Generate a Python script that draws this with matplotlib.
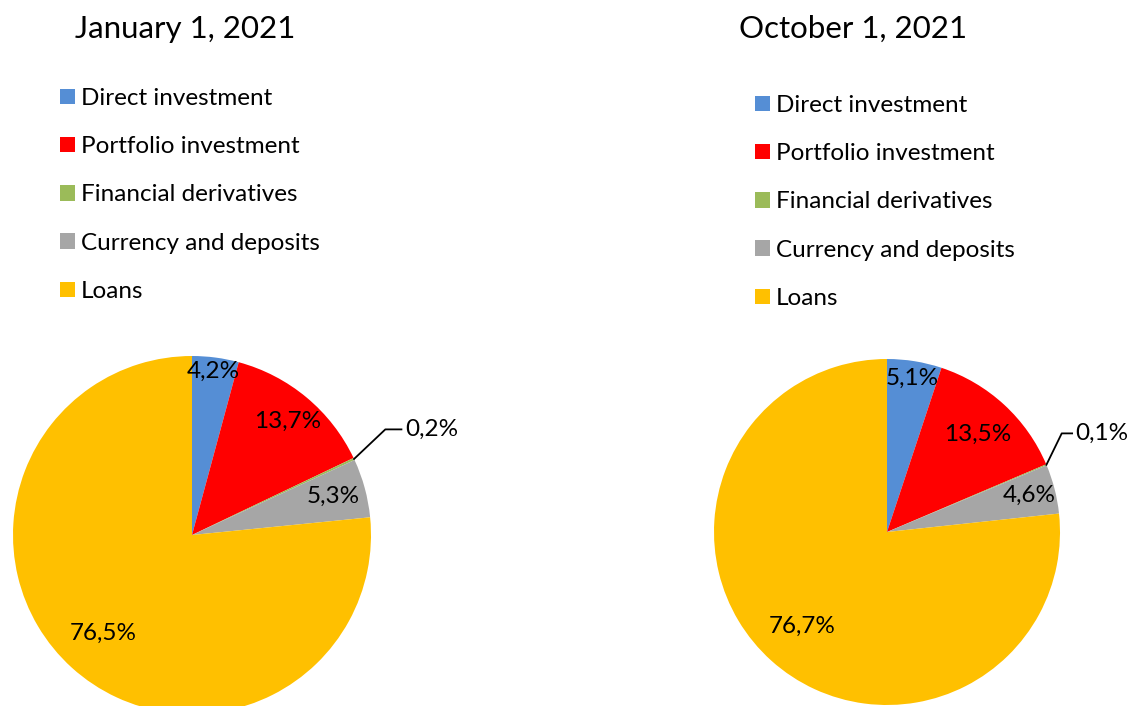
import numpy as np
import matplotlib.pyplot as plt

categories = ['Direct investment', 'Portfolio investment', 'Financial derivatives',
              'Currency and deposits', 'Loans']
jan_values = [4.2, 13.7, 0.2, 5.3, 76.5]
oct_values = [5.1, 13.5, 0.1, 4.6, 76.7]
titles = ['January 1, 2021', 'October 1, 2021']
colors = ['#558ED5', '#FF0000', '#9BBB59', '#A6A6A6', '#FFC000']

plt.rcParams['font.family'] = ['Lato', 'DejaVu Sans']

W, H = 1130, 706
fig = plt.figure(figsize=(W / 100, H / 100), dpi=100)


def pie_axes(cx, cy, r):
    # axes in pixel terms, radius 1 == r pixels
    ax = fig.add_axes([(cx - r) / W, (H - cy - r) / H, 2 * r / W, 2 * r / H])
    return ax


def fmt(v):
    return f'{v:.1f}%'.replace('.', ',')


def draw_pie(ax, values, dists, small_idx, leader):
    wedges, _ = ax.pie(values, colors=colors, startangle=90, counterclock=False,
                       radius=1, wedgeprops=dict(linewidth=0))
    ax.set_xlim(-1, 1)
    ax.set_ylim(-1, 1)
    ax.set_aspect('auto')
    for i, (w, v) in enumerate(zip(wedges, values)):
        ang = np.deg2rad((w.theta1 + w.theta2) / 2)
        if i == small_idx:
            x0, y0 = np.cos(ang), np.sin(ang)
            (kx, ky), (ex, ey) = leader
            ax.plot([x0, kx, ex], [y0, ky, ey], color='black', lw=1.3, clip_on=False)
            ax.text(ex + 0.02, ey, fmt(v), ha='left', va='center', fontsize=17.5, clip_on=False)
        else:
            d = dists[i]
            ax.text(d * np.cos(ang), d * np.sin(ang), fmt(v), ha='center', va='center',
                    fontsize=17.5)
    return wedges


ax1 = pie_axes(192, 535, 179)
w1 = draw_pie(ax1, jan_values, [0.92, 0.83, 0, 0.82, 0.74], 2,
              ((1.08, 0.59), (1.17, 0.59)))
ax2 = pie_axes(887, 532, 173)
w2 = draw_pie(ax2, oct_values, [0.9, 0.77, 0, 0.85, 0.73], 2,
              ((1.01, 0.57), (1.07, 0.57)))

fig.text(185 / W, 1 - 29 / H, titles[0], ha='center', va='center', fontsize=22.5)
fig.text(853 / W, 1 - 29 / H, titles[1], ha='center', va='center', fontsize=22.5)

leg_kw = dict(frameon=False, fontsize=17.5, handlelength=0.6, handleheight=0.6,
              handletextpad=0.25, labelspacing=1.12, borderaxespad=0, borderpad=0)
fig.legend(w1, categories, loc='upper left', bbox_to_anchor=(60 / W, 1 - 88 / H), **leg_kw)
fig.legend(w2, categories, loc='upper left', bbox_to_anchor=(755 / W, 1 - 95 / H), **leg_kw)

fig.savefig('out.png', dpi=100)
